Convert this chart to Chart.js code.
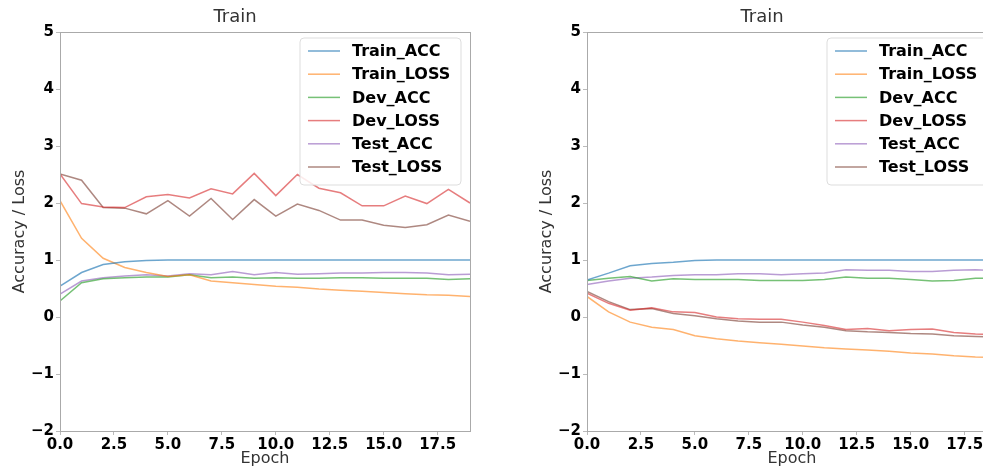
<!DOCTYPE html>
<html>
<head>
<meta charset="utf-8">
<script src="https://cdn.jsdelivr.net/npm/chart.js@4/dist/chart.umd.min.js"></script>
<style>
  html, body { margin: 0; padding: 0; background: #fff; overflow: hidden; width: 983px; height: 472px; }
  .box { position: absolute; top: 0; width: 490px; height: 472px; }
  #left { left: 0; }
  #right { left: 527px; }
</style>
</head>
<body>
<div class="box" id="left"><canvas id="chartLeft"></canvas></div>
<div class="box" id="right"><canvas id="chartRight"></canvas></div>
<script>
// epochs shared by both runs
const epochs = [0, 1, 2, 3, 4, 5, 6, 7, 8, 9, 10, 11, 12, 13, 14, 15, 16, 17, 18, 19];
const seriesNames = ['Train_ACC', 'Train_LOSS', 'Dev_ACC', 'Dev_LOSS', 'Test_ACC', 'Test_LOSS'];
const seriesColors = ['rgba(31,119,180,0.65)', 'rgba(255,127,14,0.6)', 'rgba(44,160,44,0.65)',
                      'rgba(214,39,40,0.6)', 'rgba(148,103,189,0.65)', 'rgba(140,86,75,0.7)'];
const yTicks = [-2, -1, 0, 1, 2, 3, 4, 5];
const xTicks = [0, 2.5, 5, 7.5, 10, 12.5, 15, 17.5];

// left run
const leftTrainAcc  = [0.54, 0.78, 0.92, 0.97, 0.99, 1.0, 1.0, 1.0, 1.0, 1.0, 1.0, 1.0, 1.0, 1.0, 1.0, 1.0, 1.0, 1.0, 1.0, 1.0];
const leftTrainLoss = [2.04, 1.38, 1.03, 0.87, 0.78, 0.71, 0.74, 0.63, 0.60, 0.57, 0.54, 0.52, 0.49, 0.47, 0.45, 0.43, 0.41, 0.39, 0.38, 0.36];
const leftDevAcc    = [0.28, 0.60, 0.67, 0.69, 0.70, 0.70, 0.74, 0.69, 0.70, 0.68, 0.69, 0.68, 0.68, 0.69, 0.69, 0.68, 0.68, 0.68, 0.66, 0.67];
const leftDevLoss   = [2.51, 1.99, 1.93, 1.92, 2.11, 2.15, 2.09, 2.25, 2.16, 2.52, 2.13, 2.50, 2.26, 2.18, 1.95, 1.95, 2.12, 1.99, 2.24, 2.00];
const leftTestAcc   = [0.40, 0.63, 0.69, 0.72, 0.74, 0.72, 0.76, 0.74, 0.80, 0.74, 0.78, 0.75, 0.76, 0.77, 0.77, 0.78, 0.78, 0.77, 0.74, 0.75];
const leftTestLoss  = [2.51, 2.40, 1.92, 1.91, 1.81, 2.04, 1.77, 2.08, 1.71, 2.06, 1.77, 1.98, 1.87, 1.70, 1.70, 1.61, 1.57, 1.62, 1.79, 1.68];

// right run
const rightTrainAcc  = [0.65, 0.77, 0.90, 0.94, 0.96, 0.99, 1.0, 1.0, 1.0, 1.0, 1.0, 1.0, 1.0, 1.0, 1.0, 1.0, 1.0, 1.0, 1.0, 1.0];
const rightTrainLoss = [0.36, 0.09, -0.09, -0.18, -0.22, -0.33, -0.38, -0.42, -0.45, -0.48, -0.51, -0.54, -0.56, -0.58, -0.60, -0.63, -0.65, -0.68, -0.70, -0.71];
const rightDevAcc    = [0.64, 0.68, 0.71, 0.63, 0.67, 0.66, 0.66, 0.66, 0.64, 0.64, 0.64, 0.66, 0.70, 0.68, 0.68, 0.66, 0.63, 0.64, 0.68, 0.68];
const rightDevLoss   = [0.42, 0.24, 0.12, 0.16, 0.09, 0.08, 0.00, -0.03, -0.04, -0.04, -0.09, -0.15, -0.22, -0.20, -0.24, -0.22, -0.21, -0.27, -0.30, -0.31];
const rightTestAcc   = [0.57, 0.63, 0.68, 0.70, 0.73, 0.74, 0.74, 0.76, 0.76, 0.74, 0.76, 0.77, 0.83, 0.82, 0.82, 0.80, 0.80, 0.82, 0.83, 0.81];
const rightTestLoss  = [0.45, 0.27, 0.13, 0.15, 0.06, 0.02, -0.03, -0.07, -0.09, -0.09, -0.14, -0.18, -0.24, -0.26, -0.27, -0.29, -0.30, -0.33, -0.34, -0.35];

const FONT = "'DejaVu Sans', sans-serif";

// matplotlib-like frame + legend box in the upper right of the plot
const framePlugin = {
    id: 'frame',
    afterDatasetsDraw(chart) {
        const { ctx, chartArea: a } = chart;
        ctx.save();
        ctx.strokeStyle = '#aaa';
        ctx.lineWidth = 1;
        ctx.strokeRect(a.left + 0.5, a.top + 0.5, a.right - a.left, a.bottom - a.top);

        // legend
        const bx = a.right - 170, by = a.top + 6, bw = 161, bh = 147;
        ctx.fillStyle = 'rgba(255,255,255,0.85)';
        ctx.strokeStyle = '#ddd';
        ctx.beginPath();
        ctx.roundRect(bx, by, bw, bh, 4);
        ctx.fill();
        ctx.stroke();
        ctx.font = 'bold 16px ' + FONT;
        ctx.textBaseline = 'middle';
        chart.data.datasets.forEach((ds, i) => {
            const y = by + 13 + i * 23.2;
            ctx.strokeStyle = ds.borderColor;
            ctx.lineWidth = 1.5;
            ctx.beginPath();
            ctx.moveTo(bx + 8, y);
            ctx.lineTo(bx + 40, y);
            ctx.stroke();
            ctx.fillStyle = '#000';
            ctx.fillText(ds.label, bx + 52, y + 1);
        });
        ctx.restore();
    }
};

function makeChart(id, values) {
    const ctx = document.getElementById(id).getContext('2d');
    return new Chart(ctx, {
        type: 'line',
        data: {
            datasets: seriesNames.map((name, i) => ({
                label: name,
                data: epochs.map((e, j) => ({ x: e, y: values[i][j] })),
                borderColor: seriesColors[i],
                borderWidth: 1.5,
                pointRadius: 0,
                tension: 0,
                fill: false
            }))
        },
        options: {
            responsive: true,
            maintainAspectRatio: false,
            animation: false,
            layout: { padding: { left: 0, right: 20, top: 0, bottom: 0 } },
            plugins: {
                legend: { display: false },
                tooltip: { enabled: false },
                title: {
                    display: true,
                    text: 'Train',
                    color: '#333',
                    font: { family: FONT, size: 18, weight: 'normal' },
                    padding: { top: 7, bottom: 3.4 }
                }
            },
            scales: {
                x: {
                    type: 'linear',
                    min: 0,
                    max: 19,
                    afterFit: (s) => { s.height = 41; },
                    afterBuildTicks: (s) => { s.ticks = xTicks.map(v => ({ value: v })); },
                    border: { color: '#aaa' },
                    grid: { drawOnChartArea: false, tickLength: 4, color: '#bbb' },
                    ticks: {
                        padding: 1,
                        color: '#000',
                        maxRotation: 0,
                        font: { family: FONT, size: 15, weight: 'bold' },
                        callback: (v) => v.toFixed(1)
                    },
                    title: {
                        display: true,
                        text: 'Epoch',
                        color: '#333',
                        font: { family: FONT, size: 16 },
                        padding: { top: 0, bottom: 4 }
                    }
                },
                y: {
                    min: -2,
                    max: 5,
                    afterFit: (s) => { s.width = 60; },
                    afterBuildTicks: (s) => { s.ticks = yTicks.map(v => ({ value: v })); },
                    border: { color: '#aaa' },
                    grid: { drawOnChartArea: false, tickLength: 4, color: '#bbb' },
                    ticks: {
                        padding: 2,
                        color: '#000',
                        font: { family: FONT, size: 15, weight: 'bold' },
                        callback: (v) => String(v).replace('-', '\u2212')
                    },
                    title: {
                        display: true,
                        text: 'Accuracy / Loss',
                        color: '#333',
                        font: { family: FONT, size: 16 },
                        padding: { top: 10, bottom: 0 }
                    }
                }
            }
        },
        plugins: [framePlugin]
    });
}

makeChart('chartLeft', [leftTrainAcc, leftTrainLoss, leftDevAcc, leftDevLoss, leftTestAcc, leftTestLoss]);
makeChart('chartRight', [rightTrainAcc, rightTrainLoss, rightDevAcc, rightDevLoss, rightTestAcc, rightTestLoss]);
</script>
</body>
</html>
